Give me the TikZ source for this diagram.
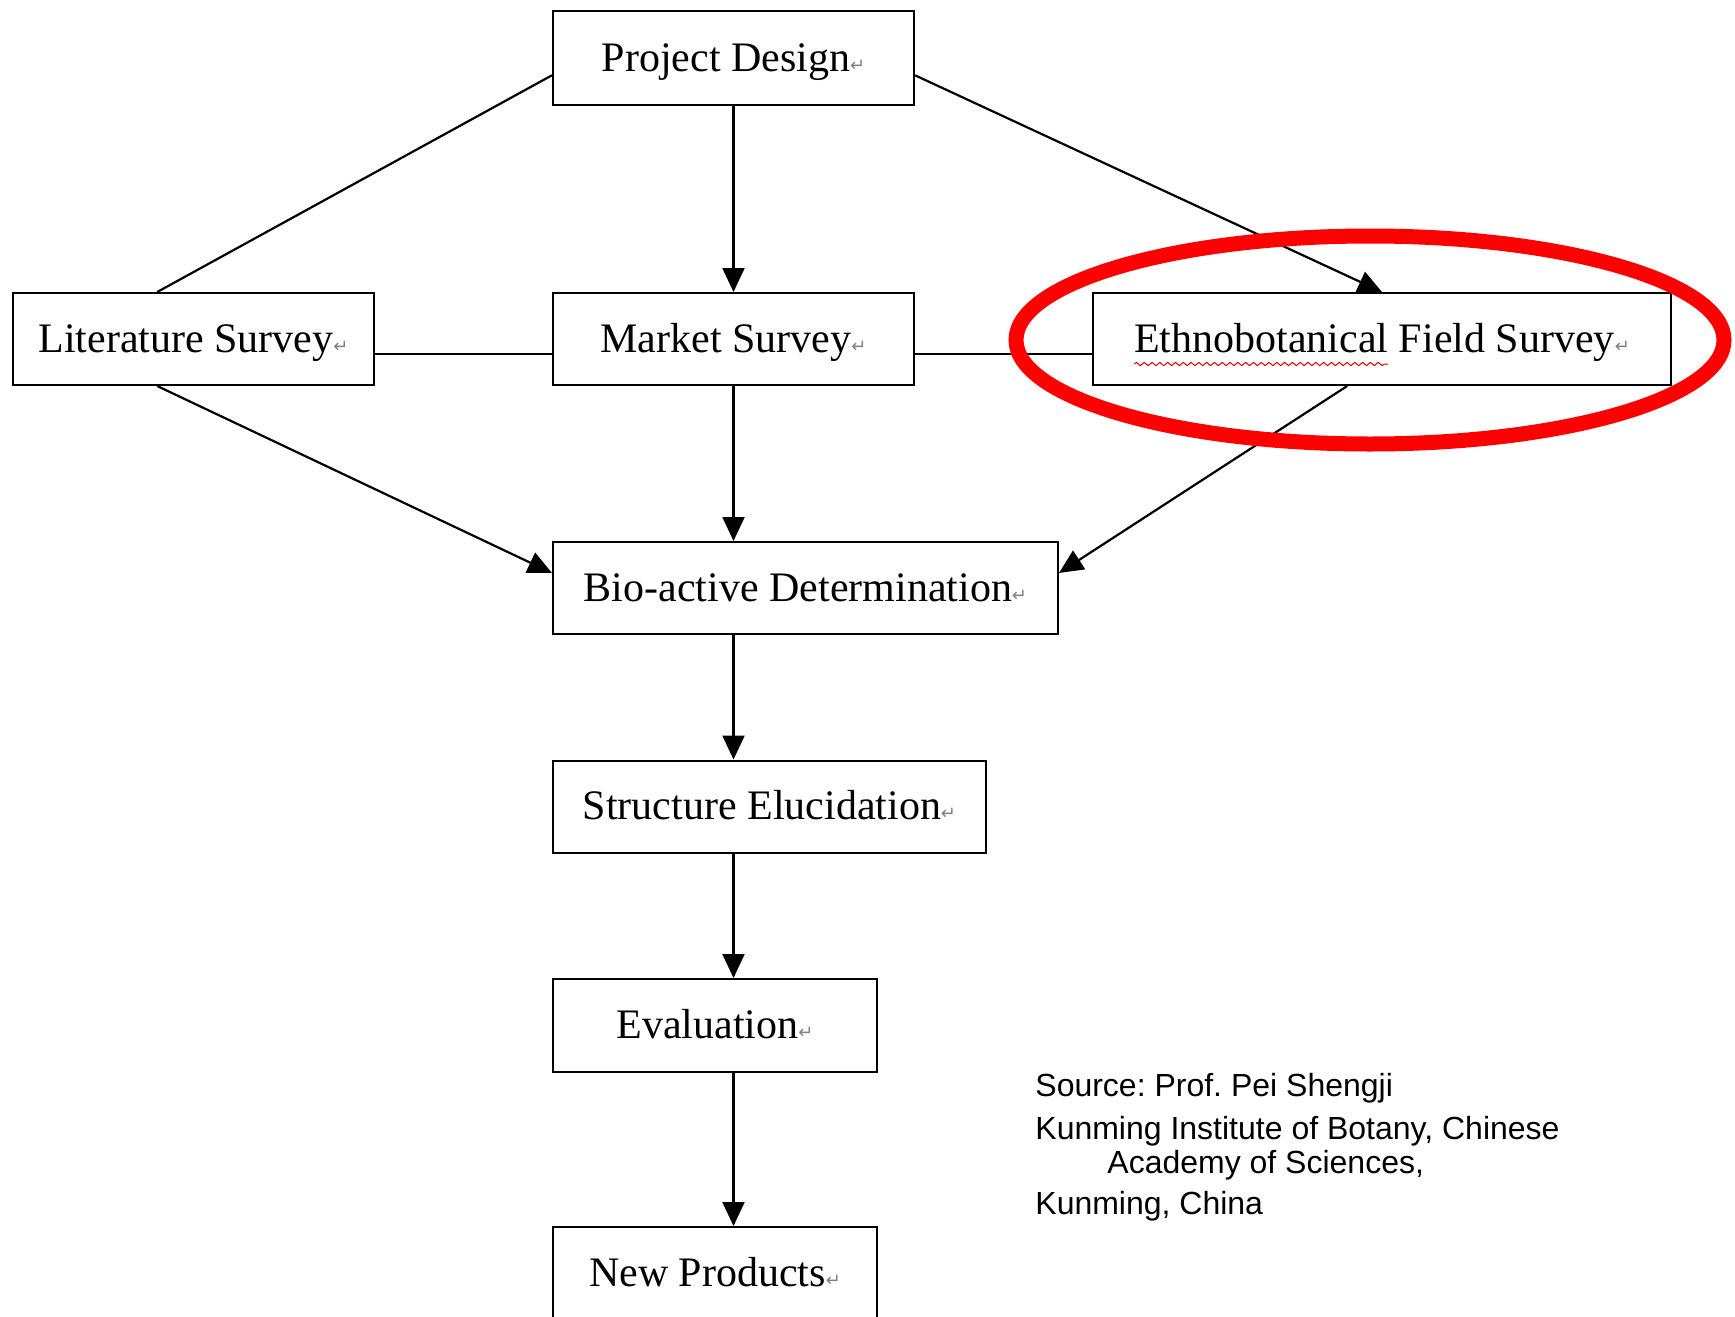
\documentclass[tikz,border=0pt]{standalone}
\usepackage{fontspec}
\setmainfont{Liberation Serif}
\newfontfamily\notefont{Liberation Sans}
\newfontfamily\markfont{DejaVu Sans}
\usepackage{tikz}
\usetikzlibrary{calc}
\usetikzlibrary{arrows.meta}
\usetikzlibrary{decorations.pathmorphing}

\newcommand{\pmark}{{\markfont\fontsize{9}{9}\selectfont\textcolor{gray}{↵}}}
\tikzset{
	stagebox/.style={draw, line width=1pt, inner sep=0pt, minimum height=46pt, text height=15pt, text depth=2pt, font=\fontsize{21}{25}\selectfont},
	flowarrow/.style={-{Triangle[length=12pt,width=11pt]}, line width=1.1pt},
	flowline/.style={line width=1.1pt},
	note/.style={inner sep=0pt, anchor=west, font=\notefont\fontsize{16}{19}\selectfont\frenchspacing},
}

\begin{document}
\begin{tikzpicture}[x=0.5pt, y=-0.5pt]
				\useasboundingbox (0,0) rectangle (1735,1317);
				
				% stages
				\node[stagebox, minimum width=180.5pt, minimum height=47pt] (design) at (733.5,58) {Project Design\pmark};
				\node[stagebox, minimum width=180.5pt] (lit) at (193.5,339) {Literature Survey\pmark};
				\node[stagebox, minimum width=180.5pt] (market) at (733.5,339) {Market Survey\pmark};
				\node[stagebox, minimum width=289pt] (ethno) at (1382,339) {Ethnobotanical Field Survey\pmark};
				\node[stagebox, minimum width=252.5pt] (bio) at (805.5,588) {Bio-active Determination\pmark};
				\node[stagebox, minimum width=216.5pt] (struct) at (769.5,806.5) {Structure Elucidation\pmark};
				\node[stagebox, minimum width=162pt, minimum height=46.5pt] (eval) at (715,1025.5) {Evaluation\pmark};
				\node[stagebox, minimum width=162pt] (newp) at (715,1273) {New Products\pmark};
				
				% where the connectors meet the boxes
				\coordinate (d1) at ($(design.north west)!0.68!(design.south west)$);
				\coordinate (d2) at ($(design.north east)!0.68!(design.south east)$);
				\coordinate (l1) at ($(lit.north west)!0.40!(lit.north east)$);
				\coordinate (l2) at ($(lit.south west)!0.40!(lit.south east)$);
				\coordinate (l3) at ($(lit.north east)!0.66!(lit.south east)$);
				\coordinate (m1) at ($(market.north west)!0.66!(market.south west)$);
				\coordinate (m2) at ($(market.north east)!0.66!(market.south east)$);
				\coordinate (e1) at ($(ethno.north west)!0.66!(ethno.south west)$);
				\coordinate (e2) at ($(ethno.north west)!0.50!(ethno.north east)$);
				\coordinate (e3) at ($(ethno.south west)!0.44!(ethno.south east)$);
				\coordinate (b1) at ($(bio.north west)!0.34!(bio.south west)$);
				\coordinate (b2) at ($(bio.north east)!0.34!(bio.south east)$);
				
				\draw[flowline] (d1)--(l1);
				\draw[flowarrow] (design)--(market);
				\draw[flowarrow] (d2)--(e2);
				
				\draw[flowline] (l3)--(m1);
				\draw[flowline] (m2)--(e1);
				
				\draw[flowarrow] (l2)--(b1);
				\draw[flowarrow] (market)--(market |- bio.north);
				\draw[flowarrow] (e3)--(b2);
				
				\draw[flowarrow] (market |- bio.south)--(market |- struct.north);
				\draw[flowarrow] (market |- struct.south)--(market |- eval.north);
				\draw[flowarrow] (market |- eval.south)--(market |- newp.north);
				
				% spelling mark under the first word
				\draw[red!85!black, line width=0.5pt, decorate, decoration={snake, amplitude=0.8pt, segment length=3.9pt}] ($(ethno.center)+(-248,25)$)--($(ethno.center)+(6,25)$);
				
				% highlight
				\draw[red, line width=7.5pt] (1370,340) ellipse [x radius=177pt, y radius=52pt];
				
				% source
				\node[note] (src) at (1035,1088) {Source: Prof. Pei Shengji};
				\node[note] (inst) at (1035,1131) {Kunming Institute of Botany, Chinese};
				\node[note] (acad) at (1107,1165) {Academy of Sciences,};
				\node[note] (city) at (1035,1206) {Kunming, China};
\end{tikzpicture}
\end{document}
